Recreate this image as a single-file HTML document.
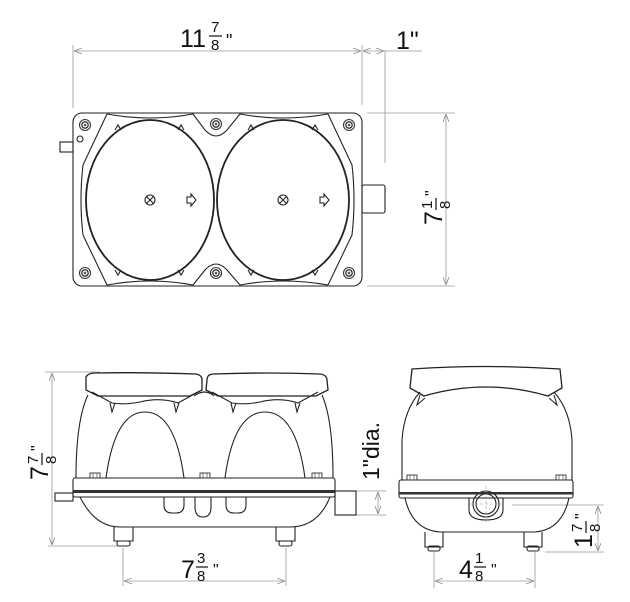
<!DOCTYPE html>
<html><head><meta charset="utf-8"><style>
html,body{margin:0;padding:0;background:#fff;width:630px;height:602px;overflow:hidden}
svg{display:block}
text{font-family:"Liberation Sans",Arial,sans-serif;fill:#111}
</style></head><body>
<svg width="630" height="602" viewBox="0 0 630 602" xmlns="http://www.w3.org/2000/svg">
<defs>
<marker id="a" markerWidth="8" markerHeight="6" refX="8" refY="3" orient="auto-start-reverse" markerUnits="userSpaceOnUse">
<path d="M0,0 L8,3 L0,6" fill="none" stroke="#888" stroke-width="0.8"/></marker>
<g id="scr"><circle r="5.5" fill="none" stroke="#333" stroke-width="1.1"/><circle r="3.2" fill="none" stroke="#333" stroke-width="1.3"/><circle r="1.3" fill="#555"/></g>
<g id="nut"><rect x="-5" y="-3" width="10" height="5" fill="none" stroke="#333" stroke-width="0.9"/><line x1="-2" y1="-3" x2="-2" y2="2" stroke="#333" stroke-width="0.6"/><line x1="2" y1="-3" x2="2" y2="2" stroke="#333" stroke-width="0.6"/></g>
</defs>
<g fill="none" stroke="#999" stroke-width="0.8">
<line x1="73" y1="45" x2="73" y2="108"/><line x1="362" y1="45" x2="362" y2="105"/><line x1="385" y1="50" x2="385" y2="163"/>
<line x1="74" y1="51" x2="361" y2="51" marker-start="url(#a)" marker-end="url(#a)"/>
<line x1="363" y1="51" x2="384" y2="51" marker-start="url(#a)" marker-end="url(#a)"/>
<line x1="385" y1="51" x2="422" y2="51"/>
<line x1="367" y1="113" x2="455" y2="113"/><line x1="367" y1="286" x2="455" y2="286"/>
<line x1="446" y1="114" x2="446" y2="285" marker-start="url(#a)" marker-end="url(#a)"/>
<line x1="45" y1="372" x2="100" y2="372"/><line x1="48" y1="546" x2="120" y2="546"/>
<line x1="52" y1="373" x2="52" y2="545" marker-start="url(#a)" marker-end="url(#a)"/>
<line x1="123" y1="548" x2="123" y2="586"/><line x1="286" y1="548" x2="286" y2="586"/>
<line x1="124" y1="581" x2="285" y2="581" marker-start="url(#a)" marker-end="url(#a)"/>
<line x1="356" y1="491" x2="386" y2="491"/><line x1="356" y1="515" x2="386" y2="515"/>
<line x1="378" y1="492" x2="378" y2="514" marker-start="url(#a)" marker-end="url(#a)"/>
<line x1="434" y1="552" x2="434" y2="588"/><line x1="535" y1="552" x2="535" y2="588"/>
<line x1="435" y1="581" x2="534" y2="581" marker-start="url(#a)" marker-end="url(#a)"/>
<line x1="512" y1="505" x2="604" y2="505"/><line x1="545" y1="552" x2="604" y2="552"/>
<line x1="598" y1="506" x2="598" y2="551" marker-start="url(#a)" marker-end="url(#a)"/>
</g>

<!-- TOP VIEW -->
<g fill="none" stroke="#222" stroke-width="1.1">
<rect x="60" y="142" width="13" height="10"/>
<rect x="362" y="185" width="23" height="28" rx="2"/>
<rect x="73" y="113" width="289" height="173" rx="9"/>
<path d="M107,114 L83,165 Q79,200 83,235 L107,285"/>
<path d="M328,114 L352,165 Q356,200 352,235 L328,285"/>
<path d="M107,114 Q150,122 193,114 L205,130 Q216,142 227,130 L240,114 Q283,122 328,114"/>
<path d="M107,285 Q150,277 193,285 L205,270 Q216,258 227,270 L240,285 Q283,277 328,285"/>
<ellipse cx="150" cy="200" rx="64" ry="80" stroke-width="1.8"/>
<ellipse cx="283" cy="200" rx="66" ry="80" stroke-width="1.8"/>
<circle cx="150" cy="200" r="5"/><path d="M146.5,196.5 L153.5,203.5 M153.5,196.5 L146.5,203.5"/>
<circle cx="283" cy="200" r="5"/><path d="M279.5,196.5 L286.5,203.5 M286.5,196.5 L279.5,203.5"/>
<path d="M187,197 h4 v-3 l5,6 l-5,6 v-3 h-4 z"/>
<path d="M320,197 h4 v-3 l5,6 l-5,6 v-3 h-4 z"/>
<circle cx="80" cy="139" r="3"/>
<path d="M115,130 l3,-5 l3,5 M178,130 l3,-5 l3,5 M248,130 l3,-5 l3,5 M312,130 l3,-5 l3,5"/>
<path d="M115,270 l3,5 l3,-5 M178,270 l3,5 l3,-5 M248,270 l3,5 l3,-5 M312,270 l3,5 l3,-5"/>
</g>
<use href="#scr" x="85" y="125"/><use href="#scr" x="216" y="124"/><use href="#scr" x="349" y="125"/>
<use href="#scr" x="85" y="273"/><use href="#scr" x="216" y="273"/><use href="#scr" x="349" y="273"/>

<!-- FRONT VIEW -->
<g fill="none" stroke="#222" stroke-width="1.1">
<rect x="55" y="493" width="18" height="8"/>
<rect x="335" y="491" width="21" height="24"/>
<path d="M88,395 Q76,420 76,478 L333,478 Q333,420 322,395"/>
<path d="M106,478 Q115,412 145,412 Q175,412 184,478"/>
<path d="M225,478 Q234,412 265,412 Q296,412 305,478"/>
<path d="M92,392 L112,403 Q125,405 140,402 Q160,397 178,403 L198,392"/>
<path d="M212,392 L232,403 Q245,405 260,402 Q280,397 298,403 L318,392"/>
<path d="M110,403 l2,9 l3,-9 M174,403 l2,9 l3,-9 M231,403 l2,9 l3,-9 M295,403 l2,9 l3,-9"/>
<path d="M86,377 Q88,373 95,373 Q140,372 196,374 Q202,375 202,380 L202,390 L190,396 L98,396 L86,390 Z" stroke-width="1.3"/>
<path d="M207,380 Q207,374 214,374 Q265,372 320,374 Q327,375 327,380 L328,390 L316,396 L218,396 L206,390 Z" stroke-width="1.3"/>
<path d="M194,396 Q205,388 214,396"/>
<rect x="73" y="478" width="262" height="19" rx="2"/>
<path d="M80,497 Q95,527 120,527 L290,527 Q318,527 330,497"/>
<path d="M164,497 v8 q0,8 8,8 h4 q8,0 8,-8 v-8 M195,497 v10 q0,10 8,10 q8,0 8,-10 v-10 M226,497 v8 q0,8 8,8 h4 q8,0 8,-8 v-8"/>
<path d="M114,527 v14 h19 v-14 M276,527 v14 h19 v-14"/>
<rect x="117" y="541" width="13" height="5" rx="2"/><rect x="279" y="541" width="13" height="5" rx="2"/>
</g>
<rect x="73" y="490" width="262" height="3" fill="#333"/>
<use href="#nut" x="95" y="476"/><use href="#nut" x="205" y="476"/><use href="#nut" x="317" y="476"/>

<!-- SIDE VIEW -->
<g fill="none" stroke="#222" stroke-width="1.1">
<path d="M412,369 Q486,364 560,369 L562,388 L548,396 Q486,378 424,396 L410,388 Z" stroke-width="1.3"/>
<path d="M420,392 Q404,410 402,440 L402,480 L572,480 L572,440 Q570,410 554,392"/>
<path d="M420,395 l-3,10 l8,-7 M554,395 l3,10 l-8,-7"/>
<rect x="399" y="480" width="174" height="18" rx="2"/>
<path d="M405,498 Q412,530 440,532 L535,532 Q562,530 569,498"/>
<path d="M469,498 v12 q0,10 17,10 q17,0 17,-10 v-12"/>
<circle cx="486" cy="504" r="13"/><circle cx="486" cy="504" r="10"/>
<path d="M425,532 v15 h18 v-15 M524,532 v15 h18 v-15"/>
<rect x="428" y="546" width="12" height="5" rx="2"/><rect x="527" y="546" width="12" height="5" rx="2"/>
</g>
<g stroke="#999" stroke-width="0.6" stroke-dasharray="3,2"><line x1="486" y1="486" x2="486" y2="522"/><line x1="470" y1="504" x2="502" y2="504"/></g>
<rect x="399" y="492" width="174" height="2.5" fill="#333"/>
<use href="#nut" x="412" y="478"/><use href="#nut" x="561" y="478"/>

<!-- LABELS -->
<text x="180" y="47" font-size="25">11</text>
<text x="211" y="32" font-size="15">7</text><line x1="209" y1="36" x2="222" y2="36" stroke="#111" stroke-width="1.2"/><text x="211" y="50" font-size="15">8</text>
<text x="226" y="47" font-size="18">"</text>
<text x="396" y="49" font-size="25">1"</text>
<g transform="translate(442,225) rotate(-90)"><text x="0" y="0" font-size="25">7</text><text x="16" y="-10" font-size="15">1</text><line x1="15" y1="-6" x2="27" y2="-6" stroke="#111" stroke-width="1.2"/><text x="16" y="8" font-size="15">8</text><text x="29" y="-6" font-size="16">"</text></g>
<g transform="translate(48,480) rotate(-90)"><text x="0" y="0" font-size="25">7</text><text x="16" y="-10" font-size="15">7</text><line x1="15" y1="-6" x2="27" y2="-6" stroke="#111" stroke-width="1.2"/><text x="16" y="8" font-size="15">8</text><text x="29" y="-6" font-size="16">"</text></g>
<text x="181" y="578" font-size="25">7</text><text x="197" y="563" font-size="15">3</text><line x1="196" y1="567" x2="208" y2="567" stroke="#111" stroke-width="1.2"/><text x="197" y="581" font-size="15">8</text><text x="213" y="575" font-size="16">"</text>
<text x="459" y="578" font-size="25">4</text><text x="475" y="563" font-size="15">1</text><line x1="474" y1="567" x2="486" y2="567" stroke="#111" stroke-width="1.2"/><text x="475" y="581" font-size="15">8</text><text x="491" y="575" font-size="16">"</text>
<text transform="translate(379,480) rotate(-90)" font-size="23">1"dia.</text>
<g transform="translate(592,548) rotate(-90)"><text x="0" y="0" font-size="25">1</text><text x="16" y="-10" font-size="15">7</text><line x1="15" y1="-6" x2="27" y2="-6" stroke="#111" stroke-width="1.2"/><text x="16" y="8" font-size="15">8</text><text x="29" y="-6" font-size="16">"</text></g>
</svg>
</body></html>
